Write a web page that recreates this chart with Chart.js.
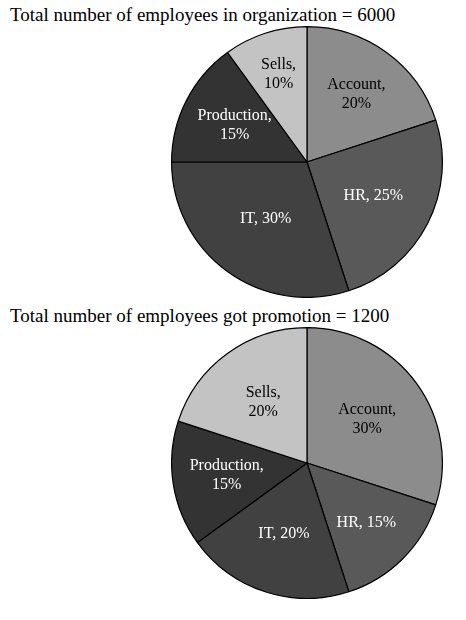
<!DOCTYPE html>
<html><head>
<script src="https://cdn.jsdelivr.net/npm/chart.js@4"></script>
<style>
  body { margin:0; background:#fff; width:466px; height:620px; position:relative; font-family:"Liberation Serif","Times New Roman",serif; }
  .title { position:absolute; left:10px; font-size:19px; color:#000; white-space:nowrap; }
  canvas { position:absolute; }
</style>
</head><body>
<div class="title" style="top:4px">Total number of employees in organization = 6000</div>
<canvas id="pie1" width="272" height="272" style="left:171px;top:26px"></canvas>
<div class="title" style="top:305px">Total number of employees got promotion = 1200</div>
<canvas id="pie2" width="272" height="272" style="left:171px;top:327px"></canvas>
<script>
  const departments = ['Account', 'HR', 'IT', 'Production', 'Sells'];
  const totalShare = [20, 25, 30, 15, 10];
  const promotedShare = [30, 15, 20, 15, 20];
  const sliceColors = ['#8c8c8c', '#595959', '#414141', '#333333', '#c3c3c3'];
  const textColors = ['#000', '#fff', '#fff', '#fff', '#000'];

  // label lines per slice: [lines, radius factor]
  const layout1 = [[['Account,', '20%'], 0.62], [['HR, 25%'], 0.55], [['IT, 30%'], 0.52], [['Production,', '15%'], 0.6], [['Sells,', '10%'], 0.68]];
  const layout2 = [[['Account,', '30%'], 0.55], [['HR, 15%'], 0.62], [['IT, 20%'], 0.55], [['Production,', '15%'], 0.6], [['Sells,', '20%'], 0.55]];

  const sliceLabels = {
    id: 'sliceLabels',
    afterDatasetsDraw(chart, args, opts) {
      const c = chart.ctx;
      const meta = chart.getDatasetMeta(0);
      c.save();
      c.font = '16px "Liberation Serif", "Times New Roman", serif';
      c.textAlign = 'center';
      c.textBaseline = 'middle';
      meta.data.forEach((arc, i) => {
        const [lines, f] = opts.layout[i];
        const mid = (arc.startAngle + arc.endAngle) / 2;
        const r = arc.outerRadius * f;
        const x = arc.x + Math.cos(mid) * r;
        const y = arc.y + Math.sin(mid) * r;
        c.fillStyle = textColors[i];
        lines.forEach((t, k) => c.fillText(t, x, y + (k - (lines.length - 1) / 2) * 19));
      });
      c.restore();
    }
  };

  function makePie(id, values, layout) {
    new Chart(document.getElementById(id), {
      type: 'pie',
      data: { labels: departments, datasets: [{ data: values, backgroundColor: sliceColors, borderColor: '#000', borderWidth: 1.2 }] },
      options: {
        responsive: false, animation: false,
        plugins: { legend: { display: false }, tooltip: { enabled: false }, sliceLabels: { layout } }
      },
      plugins: [sliceLabels]
    });
  }
  makePie('pie1', totalShare, layout1);
  makePie('pie2', promotedShare, layout2);
</script>
</body></html>
